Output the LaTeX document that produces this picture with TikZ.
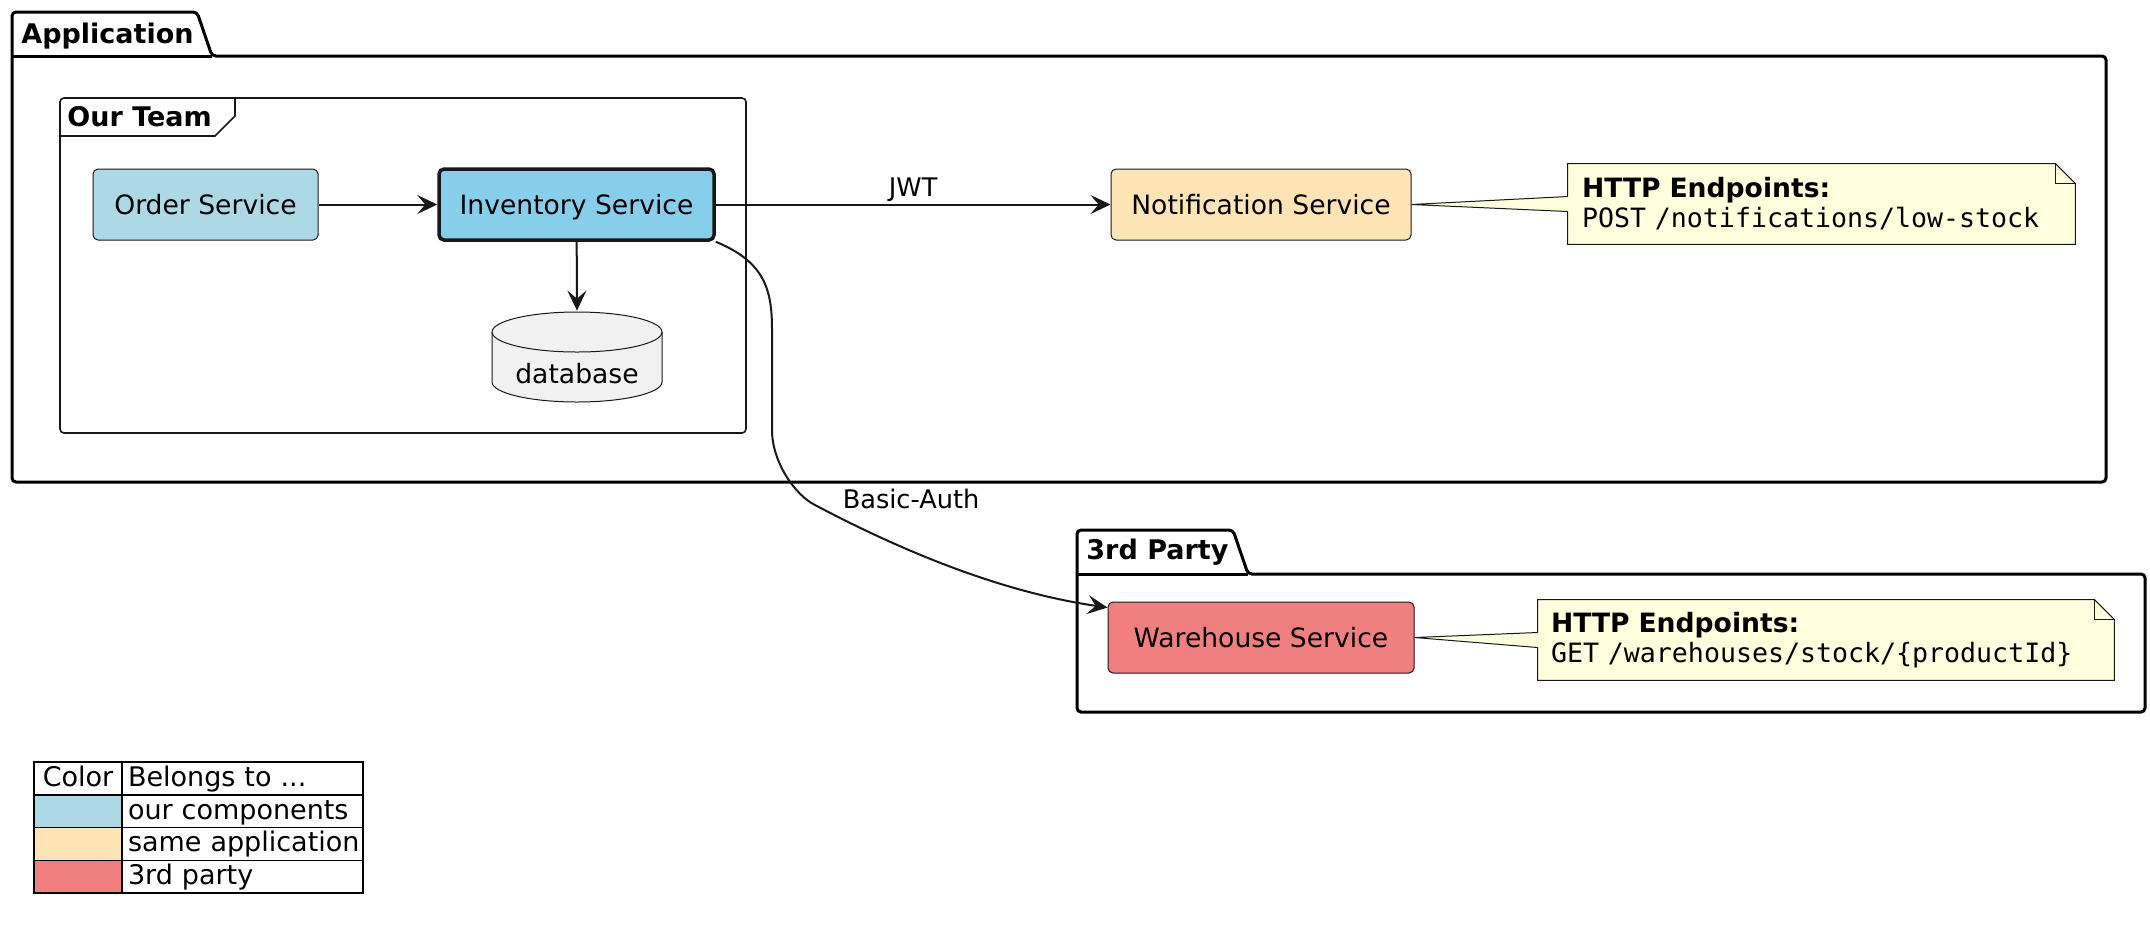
\documentclass[tikz,border=0pt]{standalone}
\usepackage{fontspec}
\setmainfont{DejaVu Sans}
\setmonofont{DejaVu Sans Mono}
\usepackage{xcolor}
\usepackage{tikz}
\usetikzlibrary{arrows.meta,positioning,calc,backgrounds}

\definecolor{ourblue}{HTML}{ADD8E6}
\definecolor{invblue}{HTML}{87CEEB}
\definecolor{sameapp}{HTML}{FFE4B5}
\definecolor{thirdred}{HTML}{F08080}
\definecolor{dbgray}{HTML}{F1F1F1}
\definecolor{notecol}{HTML}{FEFFDD}
\definecolor{linecol}{HTML}{181818}

\newcommand{\svcfont}{\fontsize{13.3}{15}\selectfont}
\newcommand{\pkgfont}{\fontsize{13.5}{16}\selectfont\bfseries}
\newcommand{\lblfont}{\fontsize{12.8}{15}\selectfont}
\newcommand{\legfont}{\fontsize{13.5}{16}\selectfont}

\tikzset{
  svc/.style={draw=linecol, line width=0.5pt, rounded corners=2.5pt, minimum height=35.5pt, inner sep=0pt,
    text height=10pt, text depth=0.3pt, font=\svcfont},
  conn/.style={draw=linecol, line width=1pt, -{Stealth[length=10pt,width=9.5pt,inset=4pt]}},
  pkgline/.style={draw=black, line width=1.5pt, rounded corners=2pt},
  frameline/.style={draw=linecol, line width=0.8pt},
  notebox/.style={draw=linecol, line width=0.5pt, fill=notecol},
  notetext/.style={align=left, minimum height=40pt, inner ysep=0pt, font=\svcfont},
  legcell/.style={draw=black, line width=0.75pt, minimum height=16.375pt, inner sep=0pt,
    text height=10pt, text depth=2pt, font=\legfont},
  legtext/.style={text width=114.5pt, inner xsep=3pt, align=left},
  lbl/.style={font=\lblfont, inner sep=1pt}
}

\begin{document}
\begin{tikzpicture}[x=0.5pt,y=-0.5pt]
\useasboundingbox (0,0) rectangle (2150,944);

% packages
\draw[pkgline] (12,56) -- (12,12) -- (197,12) -- (212,56) -- (2106,56) -- (2106,482) -- (12,482) -- cycle;
\draw[line width=1.5pt] (12,56) -- (212,56);
\node[anchor=west, font=\pkgfont, inner sep=0pt] (apptitle) at (21,36) {Application};

\draw[pkgline] (1077,574) -- (1077,530) -- (1233,530) -- (1248,574) -- (2145,574) -- (2145,712) -- (1077,712) -- cycle;
\draw[line width=1.5pt] (1077,574) -- (1248,574);
\node[anchor=west, font=\pkgfont, inner sep=0pt] (thirdtitle) at (1086,552) {3rd Party};

% frame of the team
\draw[frameline, rounded corners=2pt] (60,98) rectangle (746,433);
\draw[frameline] (60,136) -- (215,136) -- (235,116) -- (235,98);
\node[anchor=west, font=\pkgfont, inner sep=0pt] (teamtitle) at (67,117) {Our Team};

% services
\node[svc, fill=ourblue, minimum width=112.5pt] (ord) at (205.5,204.5) {Order Service};
\node[svc, fill=invblue, minimum width=137.5pt, line width=1.75pt] (inv) at (576.5,204.5) {Inventory Service};
\node[svc, fill=sameapp, minimum width=150pt] (notif) at (1261,204.5) {Notification Service};
\node[svc, fill=thirdred, minimum width=153pt] (wh) at (1261,637.5) {Warehouse Service};

% database
\node[minimum width=85pt, minimum height=45.5pt, inner sep=0pt] (db) at (577,356.5) {};
\draw[draw=linecol, line width=0.5pt, fill=dbgray] (492,332) .. controls (492,321) and (530,312) .. (577,312) .. controls (624,312) and (662,321) .. (662,332)
  -- (662,382) .. controls (662,393) and (624,402) .. (577,402) .. controls (530,402) and (492,393) .. (492,382) -- cycle;
\draw[draw=linecol, line width=0.5pt] (492,332) .. controls (492,343) and (530,352) .. (577,352) .. controls (624,352) and (662,343) .. (662,332);
\node[font=\svcfont, inner sep=0pt, text height=10pt, text depth=0.3pt] (dblabel) at (577,374) {database};

% notes
\node[notetext, text width=239.5pt, inner xsep=7pt] (note1) at (1821.5,204) {\textbf{HTTP Endpoints:}\\\texttt{POST /notifications/low-stock}};
\node[notetext, text width=275pt, inner xsep=6.5pt] (note2) at (1826,640) {\textbf{HTTP Endpoints:}\\\texttt{GET /warehouses/stock/\{productId\}}};

\begin{scope}[on background layer]
\foreach \n/\s in {note1/notif,note2/wh}{
  \draw[notebox] (\n.north west) -- ([xshift=-10pt]\n.north east) -- ([yshift=-10pt]\n.north east) -- (\n.south east) -- (\n.south west) -- cycle;
  \draw[draw=linecol, line width=0.5pt] ([xshift=-10pt]\n.north east) -- ([xshift=-10pt,yshift=-10pt]\n.north east) -- ([yshift=-10pt]\n.north east);
  \fill[notecol] (\s.east) -- ([xshift=1pt,yshift=3.75pt]\n.west) -- ([xshift=1pt,yshift=-3.75pt]\n.west) -- cycle;
  \draw[draw=linecol, line width=0.5pt] ([yshift=3.75pt]\n.west) -- (\s.east) -- ([yshift=-3.75pt]\n.west);
}
\end{scope}

% connectors
\draw[conn] (ord) -- (inv);
\draw[conn] (inv) -- (db.north);
\draw[conn] (inv) -- node[lbl, above=0pt] (jwtlbl) {JWT} (notif);
\draw[conn] (inv.south east) .. controls (765,262) and (772,290) .. (772,330) -- (772,430)
  .. controls (772,462) and (795,495) .. (815,505) .. controls (900,550) and (1000,592) .. ($(wh.north west)+(0,6)$);
\node[lbl] (basiclbl) at (911,499) {Basic-Auth};

% legend
\node[legcell, minimum width=44pt] (leghead1) at (78,778.4) {Color};
\node[legcell, legtext] (leghead2) at (242.5,778.4) {\mbox{Belongs to ...}};
\foreach \i/\clr/\txt in {1/ourblue/our components,2/sameapp/same application,3/thirdred/3rd party}{
  \node[legcell, fill=\clr, minimum width=44pt] (legc\i) at (78,{778.4+32.75*\i}) {};
  \node[legcell, legtext] (legt\i) at (242.5,{778.4+32.75*\i}) {\mbox{\txt}};
}
\end{tikzpicture}
\end{document}
